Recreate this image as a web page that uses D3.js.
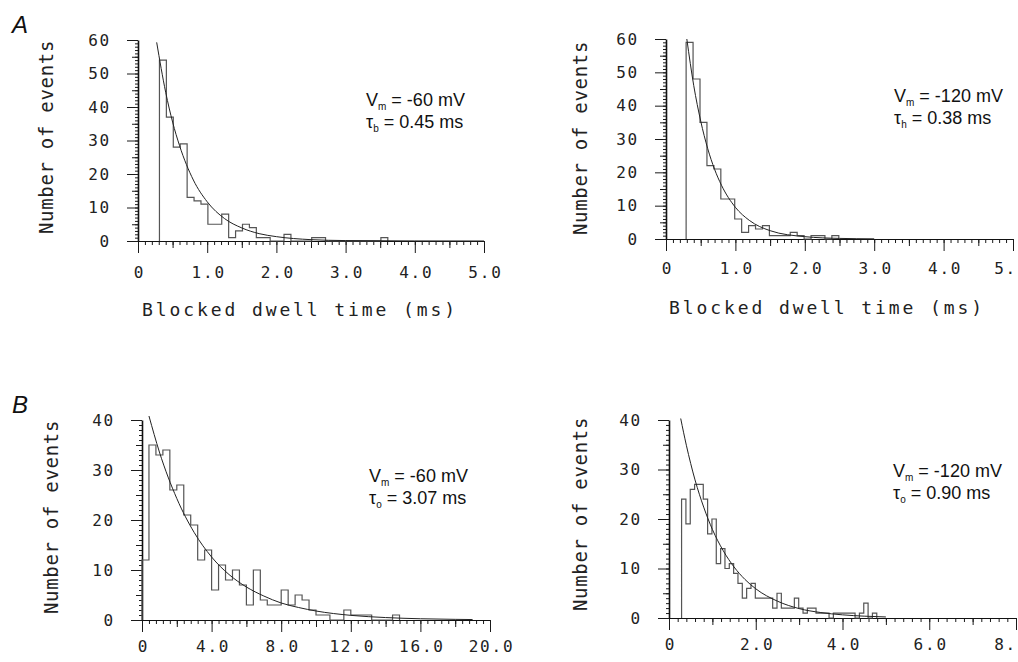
<!DOCTYPE html>
<html><head><meta charset="utf-8">
<script src="https://cdn.jsdelivr.net/npm/d3@7"></script>
<style>
body{margin:0;background:#fff;}
svg{display:block;}
</style></head><body>
<svg id="chart" width="1018" height="662"></svg>
<script>
// ---------------- DATA ----------------
// Panel A (blocked dwell times, ms); bins of 0.1 ms
const binStartA60 = 0.31, binWidthA60 = 0.1;
const countsA60 = [54,37,28,29,13,12,11,5,5,8,1,3,5,4,1,1,0,0,2,0,0,0,1,1,0,0,0,0,0,0,0,0,1];
const binStartA120 = 0.29, binWidthA120 = 0.1;
const countsA120 = [59,48,35,22,21,12,12,6,2,4,3,4,1,1,1,2,1,0,1,1,0,1];
// Panel B (open times, ms)
const binStartB60 = 0, binWidthB60 = 0.4;
const countsB60 = [12,35,33,34,26,27,21,19,12,14,6,11,8,10,7,3,10,4,3,3,6,3,5,4,2,1,1,0,0,2,1,1,1,0,0,0,1];
const binStartB120 = 0.29, binWidthB120 = 0.1;
const countsB120 = [24,19,26,27,27,24,17,20,11,14,10,11,9,7,4,6,7,4,4,4,4,2,5,2,2,2,4,2,1,2,2,1,1,1,0,1,1,1,1,1,0,1,3,0,1];

// fitted exponential curves [time, events]
const fitA60 = [[0.27,59.3],[0.4,44.4],[0.5,35.5],[0.6,28.5],[0.8,18.2],[1.0,11.7],[1.25,6.7],[1.5,3.9],[1.75,2.2],[2.0,1.3],[2.5,0.4],[3.0,0.13],[4.0,0.02],[5.0,0]];
const fitA120 = [[0.30,60],[0.4,46],[0.5,35.4],[0.6,27.2],[0.7,20.9],[0.8,16.1],[1.0,9.5],[1.2,5.6],[1.5,2.5],[2.0,0.7],[2.5,0.18],[3.0,0.05]];
const fitB60 = [[0.4,40.8],[1,33.6],[2,24.3],[3,17.5],[4,12.6],[5,9.1],[6,6.6],[7,4.8],[8,3.4],[9,2.5],[10,1.8],[12,0.93],[14,0.49],[16,0.25],[18,0.13],[19,0.09]];
const fitB120 = [[0.27,40.3],[0.4,34.9],[0.6,27.9],[0.8,22.4],[1,17.9],[1.25,13.6],[1.5,10.3],[1.75,7.8],[2,5.9],[2.5,3.4],[3,1.9],[3.5,1.1],[4,0.64],[4.5,0.37],[5,0.21]];

// tick values and labels
const yTicksA = [0,10,20,30,40,50,60];
const yTicksB = [0,10,20,30,40];
const xTicksA = [0,1,2,3,4,5];
const xLabelsA = ["0","1.0","2.0","3.0","4.0","5.0"];
const xLabelsAR = ["0","1.0","2.0","3.0","4.0","5."];
const xTicksBL = [0,4,8,12,16,20];
const xLabelsBL = ["0","4.0","8.0","12.0","16.0","20.0"];
const xTicksBR = [0,2,4,6,8];
const xLabelsBR = ["0","2.0","4.0","6.0","8."];

const yTitle = "Number of events";
const xTitleA = "Blocked dwell time (ms)";
const notes = {
  A60:  {v:"-60 mV",  sub:"b", tau:"0.45 ms"},
  A120: {v:"-120 mV", sub:"h", tau:"0.38 ms"},
  B60:  {v:"-60 mV",  sub:"o", tau:"3.07 ms"},
  B120: {v:"-120 mV", sub:"o", tau:"0.90 ms"}
};

// ---------------- LAYOUT ----------------
const W = 1018;
const MONO = "'DejaVu Sans Mono', monospace";
const SANS = "'Liberation Sans', Arial, sans-serif";
const svg = d3.select("#chart");

const panels = [
  {counts:countsA60, start:binStartA60, width:binWidthA60, fit:fitA60, note:notes.A60,
   xDomain:[0,5], xRange:[138,484], yDomain:[0,60], yRange:[241,40],
   yTicks:yTicksA, xTicks:xTicksA, xLabels:xLabelsA,
   xMinor:d3.range(0,5.001,0.1), xMid:d3.range(0.5,5,1), yMinor:d3.range(0,60.001,1), yMid:d3.range(5,60,10),
   xLabelPad:14, noteX:366, noteY:106, yTitleX:53, yTitleY:137, xTitle:true, xTitleX:300, xTitleY:316},
  {counts:countsA120, start:binStartA120, width:binWidthA120, fit:fitA120, note:notes.A120,
   xDomain:[0,5], xRange:[666,1013], yDomain:[0,60], yRange:[239,39],
   yTicks:yTicksA, xTicks:xTicksA, xLabels:xLabelsAR,
   xMinor:d3.range(0,5.001,0.1), xMid:d3.range(0.5,5,1), yMinor:d3.range(0,60.001,1), yMid:d3.range(5,60,10),
   xLabelPad:12, noteX:894, noteY:102, yTitleX:587, yTitleY:138, xTitle:true, xTitleX:827, xTitleY:314},
  {counts:countsB60, start:binStartB60, width:binWidthB60, fit:fitB60, note:notes.B60,
   xDomain:[0,20], xRange:[142,490], yDomain:[0,40], yRange:[620,420],
   yTicks:yTicksB, xTicks:xTicksBL, xLabels:xLabelsBL,
   xMinor:d3.range(0,20.001,0.4), xMid:d3.range(2,20,4), yMinor:d3.range(0,40.001,1), yMid:d3.range(5,40,10),
   xLabelPad:9, noteX:369, noteY:482, yTitleX:58, yTitleY:517, xTitle:false},
  {counts:countsB120, start:binStartB120, width:binWidthB120, fit:fitB120, note:notes.B120,
   xDomain:[0,8], xRange:[669,1016], yDomain:[0,40], yRange:[618,420],
   yTicks:yTicksB, xTicks:xTicksBR, xLabels:xLabelsBR,
   xMinor:d3.range(0,8.001,0.2), xMid:d3.range(1,8,2), yMinor:d3.range(0,40.001,1), yMid:d3.range(5,40,10),
   xLabelPad:9, noteX:893, noteY:477, yTitleX:587, yTitleY:514, xTitle:false}
];

function styleAxis(sel, keepDomain, width) {
  sel.selectAll(".tick line").attr("stroke", "#1a1a1a").attr("stroke-width", 1);
  if (!keepDomain) sel.select(".domain").remove();
  else sel.select(".domain").attr("stroke", "#111").attr("stroke-width", width || 1.2);
}

panels.forEach(p => {
  const x = d3.scaleLinear().domain(p.xDomain).range(p.xRange);
  const y = d3.scaleLinear().domain(p.yDomain).range(p.yRange);
  const g = svg.append("g");
  const X0 = x(0), Y0 = y(0);

  // x axis: minor, mid, major
  const gxm = g.append("g").attr("transform", `translate(0,${Y0})`)
    .call(d3.axisBottom(x).tickValues(p.xMinor).tickSize(4).tickSizeOuter(0).tickFormat(""));
  styleAxis(gxm, false);
  const gxd = g.append("g").attr("transform", `translate(0,${Y0})`)
    .call(d3.axisBottom(x).tickValues(p.xMid).tickSize(7).tickSizeOuter(0).tickFormat(""));
  styleAxis(gxd, false);
  const gx = g.append("g").attr("transform", `translate(0,${Y0})`)
    .call(d3.axisBottom(x).tickValues(p.xTicks).tickSize(12).tickSizeOuter(0).tickPadding(p.xLabelPad)
      .tickFormat((d,i) => p.xLabels[i]));
  styleAxis(gx, true, 1);
  gx.selectAll(".tick text").attr("font-family", MONO).attr("font-size", 16)
    .attr("letter-spacing", 1.8).attr("fill", "#222").attr("dx", 1);
  // keep the right-most label inside the picture
  gx.selectAll(".tick").each(function() {
    const tx = d3.select(this).select("text");
    const bb = this.getBoundingClientRect();
    const tb = tx.node().getBoundingClientRect();
    if (tb.right > W - 1) tx.attr("dx", 1 - (tb.right - (W - 1)));
  });

  // y axis: minor, mid, major
  const gym = g.append("g").attr("transform", `translate(${X0},0)`)
    .call(d3.axisLeft(y).tickValues(p.yMinor).tickSize(3).tickSizeOuter(0).tickFormat(""));
  styleAxis(gym, false);
  const gyd = g.append("g").attr("transform", `translate(${X0},0)`)
    .call(d3.axisLeft(y).tickValues(p.yMid).tickSize(6).tickSizeOuter(0).tickFormat(""));
  styleAxis(gyd, false);
  const gy = g.append("g").attr("transform", `translate(${X0},0)`)
    .call(d3.axisLeft(y).tickValues(p.yTicks).tickSize(11).tickSizeOuter(0).tickPadding(16));
  styleAxis(gy, true, 1.6);
  gy.selectAll(".tick text").attr("font-family", MONO).attr("font-size", 16)
    .attr("letter-spacing", 1.8).attr("fill", "#222");

  // histogram step outline
  const pts = [[p.start, 0]];
  p.counts.forEach((c, i) => {
    pts.push([p.start + i * p.width, c]);
    pts.push([p.start + (i + 1) * p.width, c]);
  });
  pts.push([p.start + p.counts.length * p.width, 0]);
  g.append("path")
    .attr("d", d3.line().x(d => x(d[0])).y(d => y(d[1]))(pts))
    .attr("fill", "none").attr("stroke", "#555").attr("stroke-width", 1.2);

  // fitted curve
  g.append("path")
    .attr("d", d3.line().x(d => x(d[0])).y(d => y(d[1])).curve(d3.curveMonotoneX)(p.fit))
    .attr("fill", "none").attr("stroke", "#222").attr("stroke-width", 1);

  // annotation
  const t1 = g.append("text").attr("x", p.noteX).attr("y", p.noteY)
    .attr("font-family", SANS).attr("font-size", 18).attr("fill", "#111");
  t1.append("tspan").text("V");
  t1.append("tspan").attr("dy", 4).attr("font-size", 10).text("m");
  t1.append("tspan").attr("dy", -4).text(" = " + p.note.v);
  const t2 = g.append("text").attr("x", p.noteX).attr("y", p.noteY + 22)
    .attr("font-family", SANS).attr("font-size", 18).attr("fill", "#111");
  t2.append("tspan").text("τ");
  t2.append("tspan").attr("dy", 4).attr("font-size", 10).text(p.note.sub);
  t2.append("tspan").attr("dy", -4).text(" = " + p.note.tau);

  // y title
  g.append("text")
    .attr("transform", `translate(${p.yTitleX},${p.yTitleY}) rotate(-90)`)
    .attr("text-anchor", "middle")
    .attr("font-family", MONO).attr("font-size", 19).attr("letter-spacing", 0.7)
    .attr("fill", "#222").text(yTitle);

  if (p.xTitle) {
    g.append("text").attr("x", p.xTitleX).attr("y", p.xTitleY)
      .attr("text-anchor", "middle")
      .attr("font-family", MONO).attr("font-size", 18).attr("letter-spacing", 2.9)
      .attr("fill", "#222").text(xTitleA);
  }
});

// panel letters
svg.append("text").attr("x", 12).attr("y", 33).attr("font-family", SANS)
  .attr("font-style", "italic").attr("font-size", 24).attr("fill", "#111").text("A");
svg.append("text").attr("x", 12).attr("y", 413).attr("font-family", SANS)
  .attr("font-style", "italic").attr("font-size", 24).attr("fill", "#111").text("B");
</script>
</body></html>
